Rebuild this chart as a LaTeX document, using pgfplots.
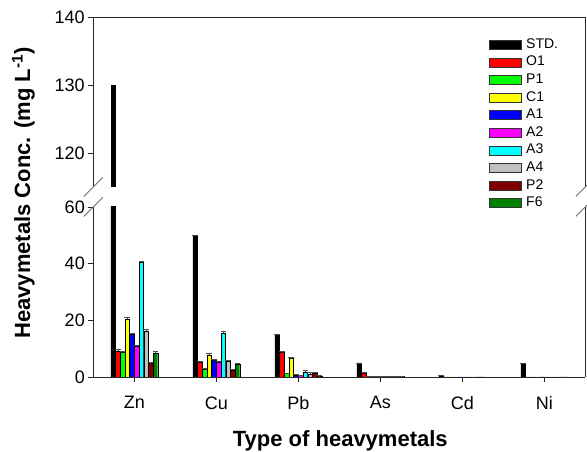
\documentclass[border=0pt]{standalone}
\usepackage{fontspec}
\setmainfont{Liberation Sans}
\usepackage{pgfplots}
\usepackage{pgfplotstable}
\pgfplotsset{compat=1.18}

\definecolor{cSTD}{RGB}{0,0,0}
\definecolor{cO1}{RGB}{255,0,0}
\definecolor{cP1}{RGB}{0,255,0}
\definecolor{cC1}{RGB}{255,255,0}
\definecolor{cA1}{RGB}{0,0,255}
\definecolor{cA2}{RGB}{255,0,255}
\definecolor{cA3}{RGB}{0,255,255}
\definecolor{cA4}{RGB}{192,192,192}
\definecolor{cP2}{RGB}{128,0,0}
\definecolor{cF6}{RGB}{0,128,0}
\definecolor{brk}{RGB}{110,110,110}

% x: 0=Zn 1=Cu 2=Pb 3=As 4=Cd 5=Ni
\pgfplotstableread{
x y e
0 130 0
1 50 0
2 15 0
3 5 0
4 0.5 0
5 4.8 0
}\tSTD
\pgfplotstableread{
x y e
0 9.2 0.4
1 5.2 0.3
2 8.6 0.5
3 1.4 0.4
4 0.05 0
5 0 0
}\tOne
\pgfplotstableread{
x y e
0 8.7 0.3
1 2.9 0.3
2 1.2 0.2
3 0.3 0
4 0.05 0
5 0 0
}\tPOne
\pgfplotstableread{
x y e
0 20.5 0.6
1 7.8 0.5
2 6.5 0.5
3 0.2 0
4 0.05 0
5 0 0
}\tCOne
\pgfplotstableread{
x y e
0 15.0 0.4
1 5.8 0.3
2 0.8 0.1
3 0.2 0
4 0.05 0
5 0 0
}\tAOne
\pgfplotstableread{
x y e
0 11.0 0.3
1 5.2 0.3
2 0.6 0.1
3 0.1 0
4 0.05 0
5 0 0
}\tATwo
\pgfplotstableread{
x y e
0 40.5 0.4
1 15.5 0.5
2 1.8 0.4
3 0.3 0
4 0.05 0
5 0 0
}\tAThree
\pgfplotstableread{
x y e
0 16.3 0.4
1 5.7 0.3
2 1.0 0.8
3 0.3 0
4 0.05 0
5 0 0
}\tAFour
\pgfplotstableread{
x y e
0 4.8 0.3
1 2.4 0.3
2 1.5 0.2
3 0.3 0
4 0.05 0
5 0 0
}\tPTwo
\pgfplotstableread{
x y e
0 8.5 0.5
1 4.6 0.3
2 0.4 0.1
3 0.3 0
4 0.05 0
5 0 0
}\tFSix

\pgfplotsset{
  brkaxis/.style={
    scale only axis, width=492pt, height=170pt,
    xmin=-0.5, xmax=5.5,
    ybar=0.1pt, bar width=4.6pt,
    axis line style={black!85, line width=0.8pt},
    tick style={black!85, line width=0.8pt},
    tick align=outside, major tick length=5pt,
    ytick pos=left,
    tick label style={font=\fontsize{18}{20}\selectfont},
    /pgf/number format/assume math mode=true,
    every axis plot/.append style={draw=black, line width=0.4pt,
      /pgfplots/error bars/y dir=plus,
      /pgfplots/error bars/y explicit,
      /pgfplots/error bars/error bar style={black!70, line width=0.6pt},
      /pgfplots/error bars/error mark options={rotate=90, mark size=2.8pt, black!70, line width=0.6pt}},
  }
}

\begin{document}
\begin{tikzpicture}
\begin{axis}[brkaxis,
  at={(0pt,0pt)}, anchor=south west,
  axis x line*=bottom, axis y line*=box,
  ymin=0, ymax=60, ytick={0,20,40,60},
  xtick={0,1,2,3,4,5}, xticklabels={Zn,Cu,Pb,As,Cd,Ni},
  xtick pos=bottom,
  xticklabel style={yshift=-11pt},
]
\addplot[fill=cSTD] table[x=x,y=y,y error=e]{\tSTD};
\addplot[fill=cO1] table[x=x,y=y,y error=e]{\tOne};
\addplot[fill=cP1] table[x=x,y=y,y error=e]{\tPOne};
\addplot[fill=cC1] table[x=x,y=y,y error=e]{\tCOne};
\addplot[fill=cA1] table[x=x,y=y,y error=e]{\tAOne};
\addplot[fill=cA2] table[x=x,y=y,y error=e]{\tATwo};
\addplot[fill=cA3] table[x=x,y=y,y error=e]{\tAThree};
\addplot[fill=cA4] table[x=x,y=y,y error=e]{\tAFour};
\addplot[fill=cP2] table[x=x,y=y,y error=e]{\tPTwo};
\addplot[fill=cF6] table[x=x,y=y,y error=e]{\tFSix};
\end{axis}
\begin{axis}[brkaxis,
  at={(0pt,190pt)}, anchor=south west,
  axis x line*=top, axis y line*=box,
  ymin=115, ymax=140, ytick={120,130,140},
  xtick=\empty,
  legend cell align=left,
  legend image code/.code={\draw[#1, draw=black!80, line width=0.6pt] (0pt,-4.5pt) rectangle (32pt,4.5pt);},
  legend style={at={(0.797,0.894)}, anchor=north west, draw=none, fill=none,
    font=\fontsize{14}{16}\selectfont, row sep=2.6pt,
    /tikz/every odd column/.style={column sep=4pt},
    nodes={inner sep=1pt, text height=10pt, text depth=3pt}},
]
\addplot[fill=cSTD, bar shift=-21.15pt, restrict y to domain=115:1000] table[x=x,y=y]{\tSTD};
\addlegendimage{fill=cO1}
\addlegendimage{fill=cP1}
\addlegendimage{fill=cC1}
\addlegendimage{fill=cA1}
\addlegendimage{fill=cA2}
\addlegendimage{fill=cA3}
\addlegendimage{fill=cA4}
\addlegendimage{fill=cP2}
\addlegendimage{fill=cF6}
\legend{STD.,O1,P1,C1,A1,A2,A3,A4,P2,F6}
\end{axis}
% axis break marks
\foreach \xx in {0pt,492pt}{
  \draw[brk, line width=0.8pt] (\xx-9.5pt,170pt-9.5pt) -- (\xx+9.5pt,170pt+9.5pt);
  \draw[brk, line width=0.8pt] (\xx-9.5pt,190pt-9.5pt) -- (\xx+9.5pt,190pt+9.5pt);
}
\node[rotate=90, font=\bfseries\fontsize{22}{24}\selectfont] at (-70pt,184pt) {Heavymetals Conc. (mg L\textsuperscript{-1})};
\node[anchor=base, font=\bfseries\fontsize{22}{24}\selectfont] at (247pt,-70pt) {Type of heavymetals};
\pgfresetboundingbox
\path[use as bounding box] (-93.3pt,-75pt) rectangle (493.7pt,377pt);
\end{tikzpicture}
\end{document}
